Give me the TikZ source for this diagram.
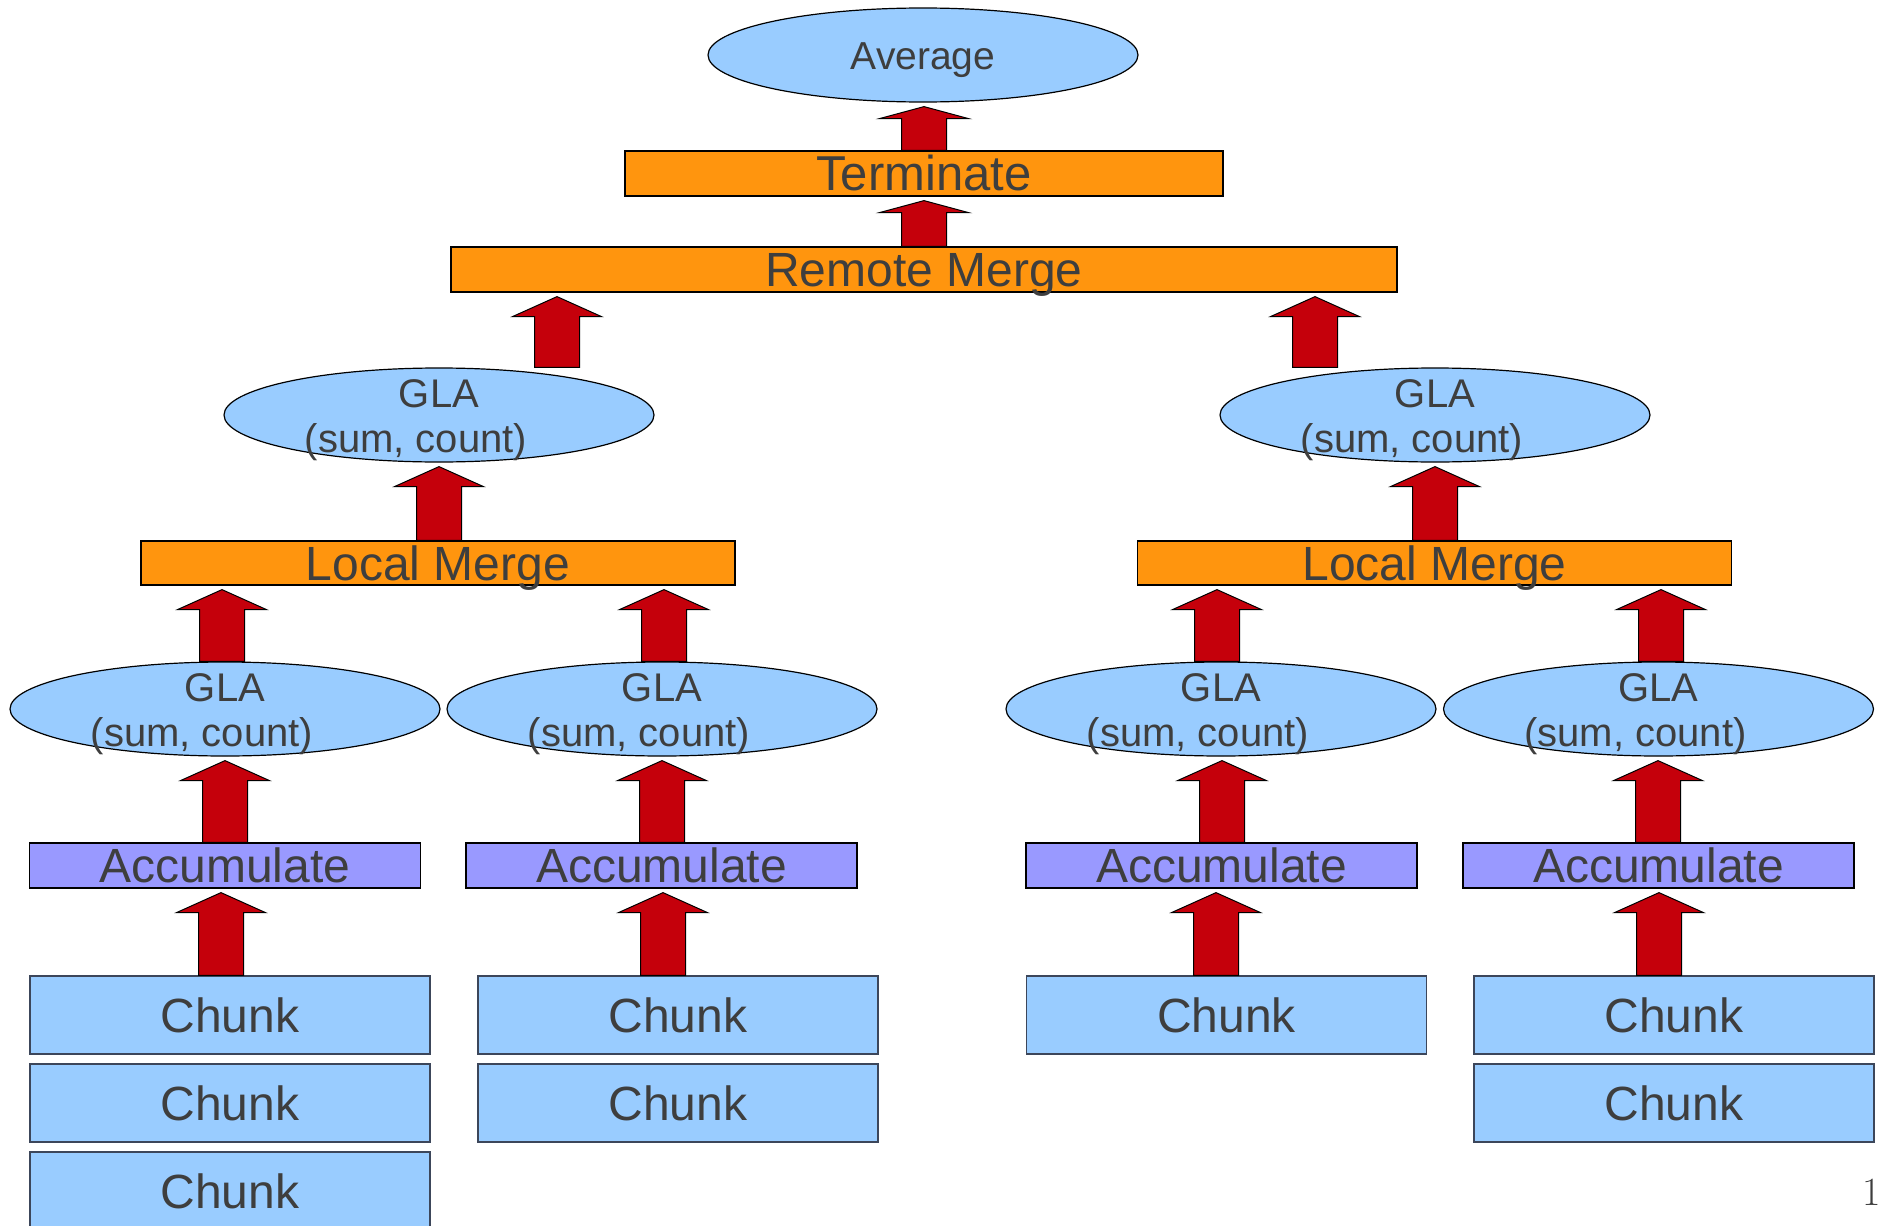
\documentclass[tikz,border=0pt]{standalone}
\usepackage{fontspec}
\newfontfamily\arialfont{Liberation Sans}
\usepackage{tikz}
\usetikzlibrary{shapes.geometric}
\usetikzlibrary{calc}
\definecolor{lightblue}{RGB}{153,204,255}
\definecolor{mergeorange}{RGB}{255,149,14}
\definecolor{accpurple}{RGB}{153,153,255}
\definecolor{arrowred}{RGB}{197,0,11}
\definecolor{textgrey}{RGB}{62,62,62}
\definecolor{chunkedge}{RGB}{60,70,90}

% fat up arrow: x position, lower node, upper node
\newcommand{\blockarrow}[4][10pt]{%
  \draw[big arrow] let \p1=(#2,0), \p2=(#3.north), \p3=(#4.south) in
    (\x1-11.25pt,\y2) -- (\x1-11.25pt,\y3-2pt-#1) -- (\x1-22.25pt,\y3-2pt-#1)
    -- (\x1,\y3-2pt) -- (\x1+22.25pt,\y3-2pt-#1) -- (\x1+11.25pt,\y3-2pt-#1)
    -- (\x1+11.25pt,\y2) -- cycle;}

\begin{document}
\begin{tikzpicture}[x=0.5pt,y=-0.5pt,
  box/.style={rectangle, draw=black, line width=0.6pt, inner sep=0pt, text=textgrey,
    font=\arialfont\fontsize{24}{28}\selectfont, text height=17pt, text depth=0pt},
  merge node/.style={box, fill=mergeorange, minimum height=22.5pt},
  acc node/.style={box, fill=accpurple, minimum width=195.5pt, minimum height=22.5pt},
  chunk node/.style={box, fill=lightblue, draw=chunkedge, minimum width=200pt, minimum height=39pt},
  gla node/.style={ellipse, draw=black, line width=0.6pt, fill=lightblue, minimum width=215pt,
    minimum height=47pt, inner sep=0pt},
  gla text/.style={text=textgrey, font=\arialfont\fontsize{20}{22.5}\selectfont, align=center,
    anchor=base, inner sep=0pt},
  big arrow/.style={fill=arrowred, draw=black, line width=0.5pt}]
			\useasboundingbox (0,0) rectangle (1880,1226);
			
			% Nodes
			\node[gla node, text=textgrey, font=\arialfont\fontsize{19.5}{22}\selectfont, text height=14pt, text depth=0pt] (avg) at (923,55) {Average};
			\node[merge node, minimum width=299pt, font=\arialfont\fontsize{24.5}{28}\selectfont] (term) at (924,173.5) {Terminate};
			\node[merge node, minimum width=473pt] (rmerge) at (924,269.5) {Remote Merge};
			
			\node[gla node] (gla1) at (439,415) {};
			\node[gla text] (gla1t) at ([yshift=-18.5pt]gla1.center) {GLA\\(sum, count)\hspace*{23pt}};
			\node[gla node] (gla2) at (1435,415) {};
			\node[gla text] (gla2t) at ([yshift=-18.5pt]gla2.center) {GLA\\(sum, count)\hspace*{23pt}};
			
			\node[merge node, minimum width=297pt, minimum height=22pt] (lm1) at (438,563) {Local Merge};
			\node[merge node, minimum width=297pt, minimum height=22pt] (lm2) at (1434.5,563) {Local Merge};
			
			\node[gla node] (g1) at (225,709) {};
			\node[gla text] (g1t) at ([yshift=-18.5pt]g1.center) {GLA\\(sum, count)\hspace*{23pt}};
			\node[gla node] (g2) at (662,709) {};
			\node[gla text] (g2t) at ([yshift=-18.5pt]g2.center) {GLA\\(sum, count)\hspace*{23pt}};
			\node[gla node] (g3) at (1221,709) {};
			\node[gla text] (g3t) at ([yshift=-18.5pt]g3.center) {GLA\\(sum, count)\hspace*{23pt}};
			\node[gla node] (g4) at (1658.5,709) {};
			\node[gla text] (g4t) at ([yshift=-18.5pt]g4.center) {GLA\\(sum, count)\hspace*{23pt}};
			
			\node[acc node] (a1) at (225,865.5) {Accumulate};
			\node[acc node] (a2) at (661.5,865.5) {Accumulate};
			\node[acc node] (a3) at (1221.5,865.5) {Accumulate};
			\node[acc node] (a4) at (1658.5,865.5) {Accumulate};
			
			\node[chunk node] (c11) at (230,1015) {Chunk};
			\node[chunk node] (c12) at (230,1103) {Chunk};
			\node[chunk node] (c13) at (230,1191) {Chunk};
			\node[chunk node] (c21) at (678,1015) {Chunk};
			\node[chunk node] (c22) at (678,1103) {Chunk};
			\node[chunk node] (c31) at (1226.5,1015) {Chunk};
			\node[chunk node] (c41) at (1674,1015) {Chunk};
			\node[chunk node] (c42) at (1674,1103) {Chunk};
			
			\node[text=textgrey, font=\fontsize{20}{22}\selectfont, inner sep=0pt] (page) at (1872,1192) {1};
			
			% Arrows
			\blockarrow{221}{c11}{a1}
			\blockarrow{663}{c21}{a2}
			\blockarrow{1216}{c31}{a3}
			\blockarrow{1659}{c41}{a4}
			
			\blockarrow{225}{a1}{g1}
			\blockarrow{662}{a2}{g2}
			\blockarrow{1222}{a3}{g3}
			\blockarrow{1658}{a4}{g4}
			
			\blockarrow{222}{g1}{lm1}
			\blockarrow{664}{g2}{lm1}
			\blockarrow{1217}{g3}{lm2}
			\blockarrow{1661}{g4}{lm2}
			
			\blockarrow{439}{lm1}{gla1}
			\blockarrow{1435}{lm2}{gla2}
			
			\blockarrow{557}{gla1}{rmerge}
			\blockarrow{1315}{gla2}{rmerge}
			
			\blockarrow[6pt]{924}{rmerge}{term}
			\blockarrow[6pt]{924}{term}{avg}
			
		\end{tikzpicture}
\end{document}
